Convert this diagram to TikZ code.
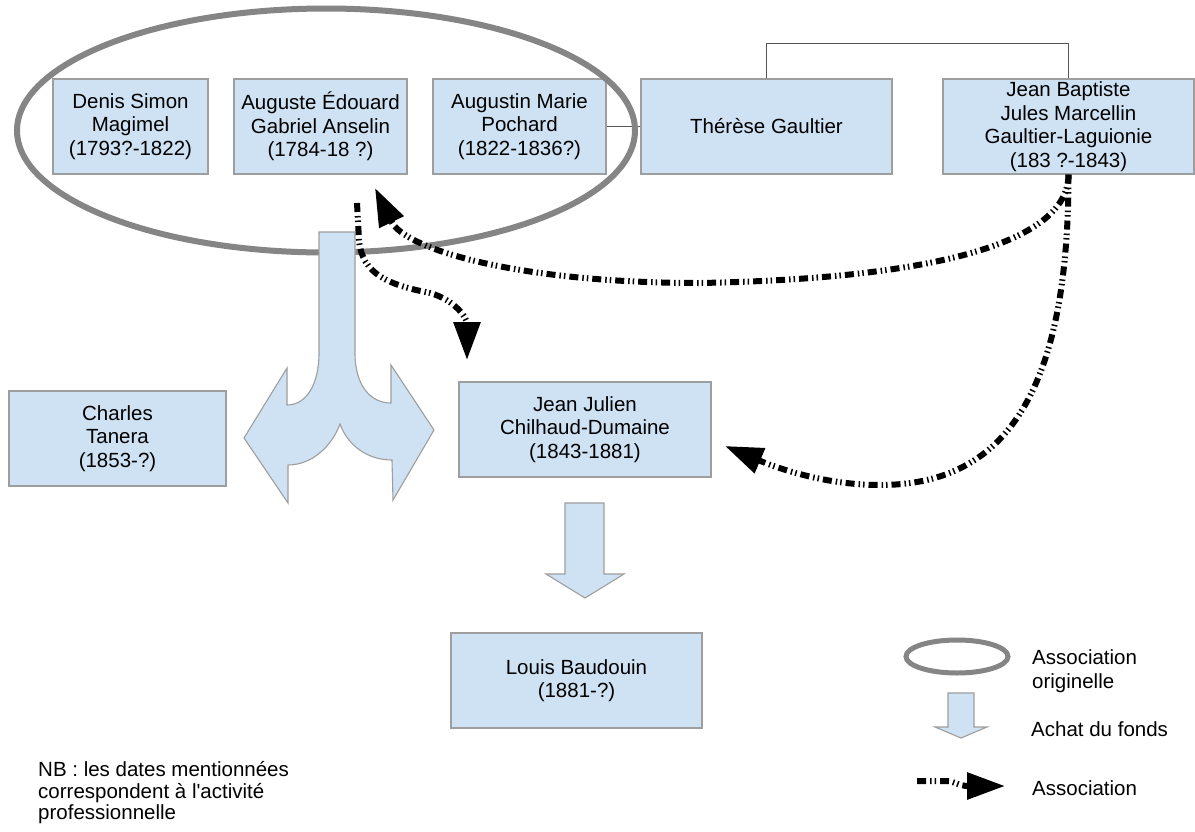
\documentclass[tikz,border=0pt]{standalone}
\usepackage{fontspec}
\setmainfont{Liberation Sans}
\usetikzlibrary{arrows.meta,shapes.geometric,calc}
\definecolor{boxblue}{HTML}{CFE2F3}
\definecolor{boxline}{HTML}{9E9E9E}
\definecolor{ringgray}{HTML}{858585}
\definecolor{linkgray}{HTML}{555555}
\tikzset{
  person/.style={draw=boxline, fill=boxblue, line width=1.2pt, align=center, inner sep=0pt,
    minimum height=95pt, font=\fontsize{20.5}{23.5}\selectfont},
  shapearrow/.style={draw=boxline, fill=boxblue, line width=1.1pt, line join=miter},
  ring/.style={draw=ringgray, ellipse, inner sep=0pt},
  link/.style={draw=linkgray, line width=1.2pt},
  assoc/.style={line width=6pt, dash pattern=on 9pt off 4pt on 1.5pt off 3pt on 1.5pt off 4pt,
    -{Triangle[length=38pt,width=26pt]}},
  legtext/.style={anchor=west, align=left, inner sep=0pt, font=\fontsize{20.5}{24}\selectfont}
}
\begin{document}
\begin{tikzpicture}[x=1pt,y=-1pt]
\useasboundingbox (0,0) rectangle (1195,831);
\fill[white] (0,0) rectangle (1195,831);

% boxes
\node[person, minimum width=155pt] (b1) at (130.5,126.5) {Denis Simon\\Magimel\\(1793?-1822)};
\node[person, minimum width=173pt] (b2) at (320.5,126.5) {Auguste Édouard\\Gabriel Anselin\\(1784-18 ?)};
\node[person, minimum width=173pt] (b3) at (519.5,126.5) {Augustin Marie\\Pochard\\(1822-1836?)};
\node[person, minimum width=251pt] (b4) at (766.5,126.5) {Thérèse Gaultier};
\node[person, minimum width=251pt] (b5) at (1068.5,126.5) {Jean Baptiste\\Jules Marcellin\\Gaultier-Laguionie\\(183 ?-1843)};
\node[person, minimum width=252pt] (jj) at (585,429.5) {Jean Julien\\Chilhaud-Dumaine\\(1843-1881)};
\node[person, minimum width=217pt] (ct) at (117.5,438.5) {Charles\\Tanera\\(1853-?)};
\node[person, minimum width=251pt] (lb) at (576.5,680.5) {Louis Baudouin\\(1881-?)};

% family links
\draw[link] (b3.east) -- (b4.west);
\draw[link] (b4.north) -- ++(0,-35) -| (b5.north);

% original association ring
\node[ring, line width=6pt, minimum width=618pt, minimum height=244pt] (assoc) at (326,130.5) {};

% fork arrow (achat du fonds, split)
\draw[shapearrow] (319,232) -- (355,232) -- (355,353)
  .. controls (355,385) and (370,403) .. (391,403) -- (391,365) -- (434,430) -- (393,500) -- (392,460)
  .. controls (368,460) and (348,446) .. (340,424)
  .. controls (332,446) and (312,465) .. (288,465) -- (288,503) -- (244,438) -- (287,368) -- (287,405)
  .. controls (306,405) and (319,385) .. (319,353) -- cycle;

% down arrow JJ -> LB
\draw[shapearrow] (565,503) -- (604,503) -- (604,574) -- (624,574) -- (585,598) -- (546,574) -- (565,574) -- cycle;

% association arrows
\coordinate (a1end) at (375,188);
\coordinate (a2end) at (725,446);
\coordinate (a3start) at (357,203);
\coordinate (a3end) at (467,360);
\draw[assoc] (b5.south) .. controls ($(b5.south)+(0,61)$) and (960,278) .. (700,283)
  .. controls (520,283) and (405,250) .. (a1end);
\draw[assoc] (b5.south) .. controls ($(b5.south)+(0,226)$) and (1000,485) .. (880,485)
  .. controls (820,485) and (770,465) .. (a2end);
\draw[assoc] (a3start) -- (359,240) .. controls (362,275) and (390,285) .. (430,293)
  .. controls (455,300) and (467,318) .. (a3end);

% legend
\node[ring, line width=5pt, minimum width=102pt, minimum height=33pt] (legring) at (957,656.5) {};
\draw[shapearrow] (948,693) -- (974,693) -- (974,727) -- (987,727) -- (961,738) -- (935,727) -- (948,727) -- cycle;
\coordinate (legA) at (917,781);
\coordinate (legB) at (1005,786);
\draw[assoc] (legA) -- (946,781) .. controls (955,781) and (958,786) .. (legB);
\node[legtext] (t1) at (1032,671) {Association\\originelle};
\node[legtext] (t2) at (1031,729) {Achat du fonds};
\node[legtext] (t3) at (1032,788) {Association};

% note
\node[anchor=west, align=left, inner sep=0pt, font=\fontsize{20.5}{21.5}\selectfont] (nb) at (38,793)
  {NB : les dates mentionnées\\correspondent à l\textquotesingle activité\\professionnelle};
\end{tikzpicture}
\end{document}
